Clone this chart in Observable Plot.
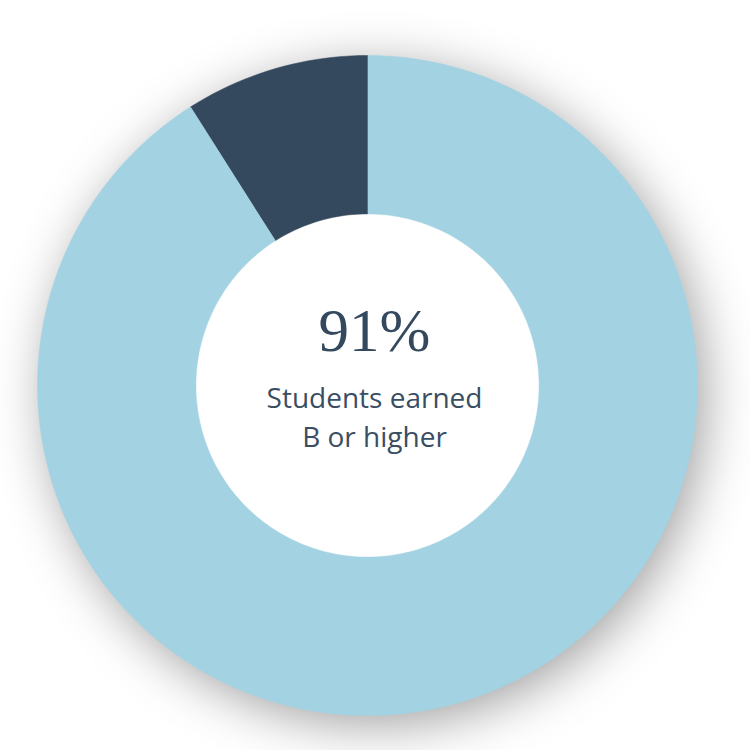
<!DOCTYPE html>
<html>
<head>
<meta charset="utf-8">
<script src="https://cdn.jsdelivr.net/npm/d3@7"></script>
<script src="https://cdn.jsdelivr.net/npm/@observablehq/plot@0.6"></script>
<style>
  html, body { margin: 0; padding: 0; background: #ffffff; }
  #chart { width: 750px; height: 750px; }
</style>
</head>
<body>
<div id="chart"></div>
<script>
// ---- data ----
const categories = ["B or higher", "Below B"];
const shares = [91, 9];
const colors = ["#a3d3e2", "#34495e"];
const headline = "91%";
const captionLines = ["Students earned", "B or higher"];

// ---- geometry derived from data (unit radius) ----
const outerR = 1;
const innerR = 0.52;
const pie = d3.pie().sort(null).startAngle(0).endAngle(2 * Math.PI)(shares);
const steps = 240;
const ringPts = [];
pie.forEach((s, i) => {
  const n = Math.max(4, Math.ceil(steps * (s.endAngle - s.startAngle) / (2 * Math.PI)));
  for (let k = 0; k <= n; k++) {
    const a = s.startAngle + (s.endAngle - s.startAngle) * k / n;
    ringPts.push({cat: categories[i], x: outerR * Math.sin(a), y: outerR * Math.cos(a)});
  }
  for (let k = n; k >= 0; k--) {
    const a = s.startAngle + (s.endAngle - s.startAngle) * k / n;
    ringPts.push({cat: categories[i], x: innerR * Math.sin(a), y: innerR * Math.cos(a)});
  }
});
const discPts = d3.range(steps + 1).map(k => {
  const a = 2 * Math.PI * k / steps;
  return {x: outerR * Math.sin(a) * 0.995, y: outerR * Math.cos(a) * 0.995};
});

const R = 330; // pixel radius
const plot = Plot.plot({
  width: 750,
  height: 750,
  margin: 0,
  style: {background: "transparent", overflow: "visible"},
  x: {domain: [-367 / R, 383 / R], axis: null},
  y: {domain: [-365 / R, 385 / R], axis: null},
  color: {domain: categories, range: colors},
  marks: [
    Plot.line(discPts, {x: "x", y: "y", fill: "white", stroke: "none"}),
    Plot.line(ringPts, {x: "x", y: "y", z: "cat", fill: "cat", stroke: "cat", strokeWidth: 0.5}),
    Plot.text([headline], {x: () => 0, y: () => 0, text: d => d, dx: 7, dy: -54,
      fontFamily: "Liberation Serif", fontSize: 61, fill: "#34495e", textAnchor: "middle"}),
    Plot.text([captionLines[0]], {x: () => 0, y: () => 0, text: d => d, dx: 7, dy: 14,
      fontFamily: "Open Sans", fontSize: 28, fill: "#3a4e63", textAnchor: "middle"}),
    Plot.text([captionLines[1]], {x: () => 0, y: () => 0, text: d => d, dx: 7, dy: 53,
      fontFamily: "Open Sans", fontSize: 28, fill: "#3a4e63", textAnchor: "middle"})
  ]
});
const lineGroups = plot.querySelectorAll("g[aria-label=line]");
if (lineGroups.length) {
  lineGroups[0].style.filter = "drop-shadow(8px 10px 26px rgba(0,0,0,0.38))";
}
document.getElementById("chart").appendChild(plot);
</script>
</body>
</html>
